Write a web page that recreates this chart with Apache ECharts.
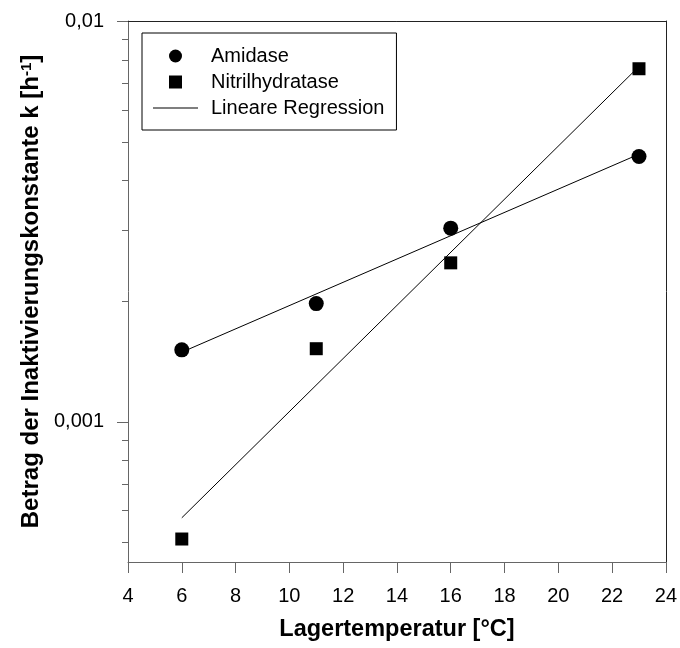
<!DOCTYPE html>
<html>
<head>
<meta charset="utf-8">
<script src="https://cdn.jsdelivr.net/npm/echarts@6/dist/echarts.min.js"></script>
<style>
  html, body { margin: 0; padding: 0; background: #fff; }
  #chart { width: 680px; height: 648px; }
</style>
</head>
<body>
<div id="chart"></div>
<script>
const temps = [6, 11, 16, 23];
const amidase = [0.00151, 0.00197, 0.00304, 0.00459];
const nitril = [0.000509, 0.00152, 0.00249, 0.0076];
// Regressionsgeraden: Endpunkte [T, k]
const regAmidase = [[6, 0.00149], [23, 0.00465]];
const regNitril = [[6, 0.000575], [23, 0.0077]];
// Achsen
const X_MIN = 4;
const X_MAX = 24;
const Y_MIN = 0.000446;
const Y_MAX = 0.01;
const yMajorTicks = [0.001, 0.01];
const yMinorTicks = [0.0005, 0.0006, 0.0007, 0.0008, 0.0009,
  0.002, 0.003, 0.004, 0.005, 0.006, 0.007, 0.008, 0.009];

const font = 'Liberation Sans, Arial, sans-serif';
const axisColor = '#666';
const frameColor = '#222';

const myChart = echarts.init(document.getElementById('chart'));

// Ticks der log-Achse selbst zeichnen (Haupt- und Nebenstriche)
function tickSeries(values, len) {
  return {
    type: 'custom',
    silent: true,
    clip: false,
    data: values.map(v => [X_MIN, v]),
    encode: { x: 0, y: 1 },
    renderItem: (params, api) => {
      const p = api.coord([api.value(0), api.value(1)]);
      return {
        type: 'line',
        shape: { x1: p[0] - len, y1: Math.round(p[1]) + 0.5, x2: p[0], y2: Math.round(p[1]) + 0.5 },
        style: { stroke: axisColor, lineWidth: 1 }
      };
    }
  };
}

const option = {
  animation: false,
  textStyle: { fontFamily: font },
  grid: { left: 128, right: 11, top: 21, bottom: 86 },
  legend: {
    orient: 'vertical',
    left: 142,
    top: 33,
    padding: [13, 12, 12, 11],
    borderColor: '#000',
    borderWidth: 1,
    itemWidth: 45,
    itemHeight: 13,
    itemGap: 6,
    symbolKeepAspect: true,
    textStyle: { fontSize: 20, color: '#000', fontFamily: font, padding: [0, 0, 0, 8] },
    data: [
      { name: 'Amidase', icon: 'circle' },
      { name: 'Nitrilhydratase', icon: 'path://M0,0H12V12H0Z' },
      { name: 'Lineare Regression', icon: 'path://M0,0H45V1H0Z' }
    ]
  },
  xAxis: [
    {
      type: 'value',
      min: X_MIN,
      max: X_MAX,
      interval: 2,
      name: 'Lagertemperatur [°C]',
      nameLocation: 'middle',
      nameGap: 56,
      nameTextStyle: { fontSize: 23.5, fontWeight: 'bold', color: '#000', fontFamily: font },
      axisLine: { lineStyle: { color: axisColor } },
      axisTick: { inside: false, length: 11, lineStyle: { color: axisColor } },
      axisLabel: { fontSize: 20, color: '#000', margin: 24, fontFamily: font },
      splitLine: { show: false }
    },
    {
      type: 'value',
      position: 'top',
      min: X_MIN,
      max: X_MAX,
      axisLine: { show: true, lineStyle: { color: frameColor } },
      axisTick: { show: false },
      axisLabel: { show: false },
      splitLine: { show: false }
    }
  ],
  yAxis: [
    {
      type: 'log',
      logBase: 10,
      min: Y_MIN,
      max: Y_MAX,
      name: 'Betrag der Inaktivierungskonstante k [h{sup|-1}]',
      nameLocation: 'middle',
      nameGap: 85,
      nameTextStyle: {
        fontSize: 24, fontWeight: 'bold', color: '#000', fontFamily: font,
        rich: {
          sup: { fontSize: 15, fontWeight: 'bold', color: '#000', fontFamily: font, verticalAlign: 'top', lineHeight: 14 }
        }
      },
      axisLine: { show: true, lineStyle: { color: axisColor } },
      axisTick: { show: false },
      axisLabel: {
        fontSize: 20, color: '#000', margin: 24, fontFamily: font,
        showMinLabel: false,
        formatter: v => {
          const e = Math.log10(v);
          if (Math.abs(e - Math.round(e)) > 1e-6) return '';
          return String(+Math.pow(10, Math.round(e)).toPrecision(6)).replace('.', ',');
        }
      },
      splitLine: { show: false }
    },
    {
      type: 'value',
      position: 'right',
      min: 0,
      max: 1,
      axisLine: { show: true, lineStyle: { color: frameColor } },
      axisTick: { show: false },
      axisLabel: { show: false },
      splitLine: { show: false }
    }
  ],
  series: [
    {
      name: 'Lineare Regression',
      type: 'line',
      data: regAmidase,
      symbol: 'none',
      lineStyle: { color: '#000', width: 1 },
      itemStyle: { color: '#000' }
    },
    {
      name: 'Lineare Regression',
      type: 'line',
      data: regNitril,
      symbol: 'none',
      lineStyle: { color: '#000', width: 1 },
      itemStyle: { color: '#000' }
    },
    {
      name: 'Amidase',
      type: 'scatter',
      symbol: 'circle',
      symbolSize: 15,
      itemStyle: { color: '#000', opacity: 1 },
      data: temps.map((t, i) => [t, amidase[i]])
    },
    {
      name: 'Nitrilhydratase',
      type: 'scatter',
      symbol: 'rect',
      symbolSize: 13,
      itemStyle: { color: '#000', opacity: 1 },
      data: temps.map((t, i) => [t, nitril[i]])
    },
    tickSeries(yMajorTicks, 11),
    tickSeries(yMinorTicks, 6)
  ]
};

myChart.setOption(option);
</script>
</body>
</html>
